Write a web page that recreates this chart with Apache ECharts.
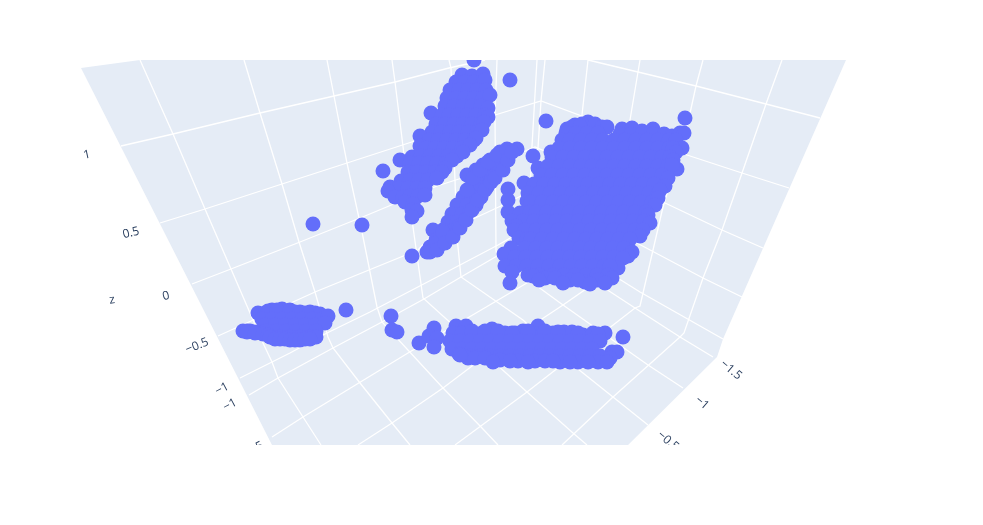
<!DOCTYPE html>
<html><head><meta charset="utf-8">
<style>html,body{margin:0;padding:0;background:#fff}#c{width:983px;height:525px}</style>
<script src="https://cdn.jsdelivr.net/npm/echarts@6/dist/echarts.min.js"></script>
</head><body><div id="c"></div>
<script>
// Points (horizontal, vertical picture units)
const loosePoints = [[313,224],[362,225],[346,310],[412,256],[510,80],[546,121],[474,60],[685,118],[431,113],[383,171],[391,316],[392,330],[397,332],[419,343],[434,328],[429,336],[437,338],[434,347],[623,337]];
const leftCluster = [[272,310],[282,309],[258,313],[265,313],[275,313],[285,313],[295,312],[305,313],[315,313],[268,311],[277,310],[290,310],[300,312],[310,312],[320,314],[262,319],[272,319],[282,319],[292,319],[302,319],[312,319],[322,319],[328,316],[265,325],[275,325],[285,325],[295,325],[305,325],[315,325],[325,323],[243,331],[247,331],[250,331],[254,332],[258,332],[262,333],[266,331],[276,331],[286,331],[296,331],[306,331],[316,331],[247,332],[255,333],[263,334],[268,335],[270,337],[280,337],[290,337],[300,337],[310,337],[316,337],[275,339],[280,339],[285,339],[290,340],[295,340],[300,340],[305,339],[310,339]];
const floorCluster = [[456,326],[466,326],[492,329],[538,326],[453,333],[462,333],[472,333],[482,333],[492,333],[505,333],[515,333],[523,331],[533,333],[543,333],[553,333],[564,332],[572,332],[583,335],[593,333],[605,333],[472,331],[485,331],[498,331],[512,333],[528,331],[545,331],[558,332],[578,333],[598,334],[450,341],[460,341],[470,341],[480,341],[490,341],[500,341],[510,341],[520,341],[530,341],[540,341],[550,341],[560,341],[570,341],[580,341],[590,341],[600,341],[452,349],[462,349],[472,349],[482,349],[492,349],[502,349],[512,349],[522,349],[532,349],[542,349],[552,349],[562,349],[572,349],[582,349],[592,349],[612,352],[617,352],[459,354],[470,356],[480,356],[490,356],[500,356],[510,356],[520,356],[530,356],[540,356],[550,356],[560,356],[570,356],[580,356],[590,356],[600,356],[610,358],[468,358],[460,355],[475,358],[485,358],[500,360],[518,361],[535,361],[545,361],[560,362],[578,362],[598,362],[493,362],[510,361],[528,362],[553,361],[570,362],[588,362],[607,362]];
const diagonalCluster = [[517,149],[508,150],[500,152],[497,157],[490,160],[503,158],[483,165],[492,168],[499,165],[476,170],[467,175],[485,175],[476,180],[492,177],[470,188],[480,188],[487,187],[463,197],[473,197],[481,197],[457,205],[467,205],[476,205],[452,214],[462,214],[470,211],[448,222],[457,222],[465,220],[433,230],[443,230],[452,231],[459,226],[436,240],[445,239],[450,236],[430,247],[438,247],[427,252],[436,243],[443,232],[467,190],[473,178],[480,170],[488,162],[497,155],[507,149],[430,252],[437,250],[445,243],[453,237],[460,228],[466,220],[472,210],[478,200],[485,190],[491,182],[495,178],[503,170],[508,160],[512,152]];
const upperCluster = [[462,75],[472,76],[483,74],[456,82],[465,82],[474,82],[483,82],[485,80],[450,90],[459,90],[468,90],[477,90],[486,90],[447,98],[456,98],[465,98],[474,98],[483,98],[490,95],[445,106],[454,106],[463,106],[472,106],[481,106],[488,108],[442,115],[449,115],[458,115],[467,115],[476,115],[485,115],[488,117],[436,124],[445,124],[454,124],[463,124],[472,124],[481,124],[484,122],[432,132],[441,132],[450,132],[459,132],[468,132],[477,132],[482,130],[420,136],[429,140],[438,140],[447,140],[456,140],[465,140],[474,140],[476,138],[420,146],[426,148],[435,148],[444,148],[453,148],[462,148],[470,145],[412,157],[421,156],[430,156],[439,156],[448,156],[457,156],[463,152],[400,160],[410,163],[419,163],[428,163],[437,163],[446,163],[452,160],[445,168],[408,172],[417,172],[426,172],[435,172],[442,172],[401,181],[410,180],[419,180],[428,180],[437,178],[390,187],[399,188],[408,188],[417,188],[425,188],[388,191],[395,197],[403,197],[410,196],[418,196],[425,195],[405,202],[413,204],[412,210],[417,211],[412,217]];
const largeCluster = [[588,122],[575,125],[582,124],[595,124],[567,129],
[572,127],[580,126],[602,127],[607,127],[622,129],[632,128],[642,131],[653,129],
[566,133],[576,133],[587,133],[598,133],[620,134],[631,134],[642,134],[653,134],[664,134],[672,136],[680,133],[684,133],
[562,140],[570,140],[581,140],[592,140],[603,140],[614,140],[625,140],[636,140],[647,140],[658,140],[669,140],[676,140],
[551,152],[559,148],[570,148],[581,148],[592,148],[603,148],[614,148],[625,148],[636,148],[647,148],[658,148],[669,148],[682,148],[673,148],[676,152],
[533,156],[552,157],[563,157],[574,157],[585,157],[596,157],[607,157],[618,157],[629,157],[640,157],[651,157],[662,157],[670,157],[673,160],
[538,168],[548,166],[559,166],[570,166],[581,166],[592,166],[603,166],[614,166],[625,166],[636,166],[647,166],[658,166],[668,166],[677,169],[672,165],
[541,175],[552,175],[563,175],[574,175],[585,175],[596,175],[607,175],[618,175],[629,175],[640,175],[651,175],[662,175],[668,178],
[524,183],[534,184],[544,184],[555,184],[566,184],[577,184],[588,184],[599,184],[610,184],[621,184],[632,184],[643,184],[654,184],[665,186],
[508,189],[528,193],[539,193],[550,193],[561,193],[572,193],[583,193],[594,193],[605,193],[616,193],[627,193],[638,193],[649,193],[658,194],[660,190],
[508,200],[527,201],[531,202],[542,202],[553,202],[564,202],[575,202],[586,202],[597,202],[608,202],[619,202],[630,202],[641,202],[652,202],[658,198],[655,205],
[508,212],[520,213],[530,212],[536,212],[547,212],[558,212],[569,212],[580,212],[591,212],[602,212],[613,212],[624,212],[635,212],[646,212],[648,215],
[512,221],[523,221],[534,221],[545,221],[556,221],[567,221],[578,221],[589,221],[600,221],[611,221],[622,221],[633,221],[644,221],[650,223],[516,226],
[514,230],[525,230],[536,230],[547,230],[558,230],[569,230],[580,230],[591,230],[602,230],[613,230],[624,230],[635,230],[643,230],[640,236],
[519,238],[527,239],[531,239],[542,239],[553,239],[564,239],[575,239],[586,239],[597,239],[608,239],[619,239],[630,239],
[511,248],[525,248],[536,248],[547,248],[558,248],[569,248],[580,248],[591,248],[602,248],[613,248],[624,248],[632,252],[628,256],
[504,254],[515,257],[526,257],[537,257],[548,257],[559,257],[570,257],[581,257],[592,257],[603,257],[614,257],[623,258],[618,268],
[505,266],[516,266],[527,266],[538,266],[549,266],[560,266],[571,266],[582,266],[593,266],[604,266],[610,266],
[512,272],[528,275],[539,275],[553,275],[564,275],[575,275],[586,275],[597,275],[608,275],[612,278],[533,276],[545,278],[555,278],[570,280],[585,282],[598,280],
[510,283],[539,280],[563,283],[578,280],[590,284],[605,283]];

// White guide lines of the three walls
const wallLines = [
 [[121,146],[173,134],[260,113],[334,96],[395,82],[449,68],[485,60]],
 [[160,223],[205,209],[282,184],[347,163],[495,115],[541,101],[687,155],[742,173],[789,188]],
 [[192,284],[231,269],[300,242],[365,216],[437,186],[462,178],[535,147],[663,202],[722,230],[763,248]],
 [[218,336],[315,292],[418,250],[428,239],[460,225],[503,205],[533,190],[635,242],[703,278],[742,297]],
 [[240,378],[290,353],[327,333],[370,312],[460,265],[498,245],[533,225],[640,292],[723,339]],
 [[588,60],[638,72],[696,86],[766,104],[820,118]],
 [[140,60],[173,134],[205,209],[231,269],[263,343],[272,362],[278,378],[303,417],[321,445]],
 [[244,60],[260,113],[282,184],[299,242],[315,292],[328,337],[333,348],[360,383],[392,423],[410,445]],
 [[327,60],[334,96],[347,163],[362,232],[377,307],[382,322],[443,388],[482,428],[498,445]],
 [[392,60],[395,82],[413,227],[423,298],[527,392],[573,433],[587,445]],
 [[449,60],[451,68],[457,237],[461,277],[523,320],[563,357],[613,397],[648,425]],
 [[497,60],[495,115],[496,250],[497,257],[563,305],[648,365],[683,388]],
 [[537,60],[532,146],[528,238]],
 [[545,60],[541,101],[538,148],[528,238]],
 [[588,60],[582,115],[566,263],[537,277],[493,303],[408,353],[303,417],[272,437]],
 [[640,60],[630,120],[596,282],[563,305],[480,360],[443,388],[392,423],[358,445]],
 [[703,60],[696,86],[687,127],[663,207],[640,306],[635,308],[527,392],[455,445]],
 [[782,60],[766,104],[742,173],[722,230],[703,278],[684,333],[680,337],[613,397],[562,445]],
 [[249,395],[278,378],[333,348],[382,322],[424,299],[461,277],[528,238],[635,308],[680,337],[713,357]]
];
const wallOutline = [[81,68],[140,60],[846,60],[723,339],[717,357],[628,445],[272,445]];

const tickTexts = ['1','0.5','0','\u22120.5','\u22121','\u22121','\u22120.5','z','\u22121.5','\u22121','\u22120.5'];
const tickSpots = [[87,155],[131,233],[166,296],[197,346],[222,389],[230,405],[252,450],[112,300],[731,370],[702,403],[668,441]];
const tickAngles = [12,14,14,22,28,28,26,8,-40,-40,-40];

const chart = echarts.init(document.getElementById('c'), null, {renderer:'canvas'});
const markSeries = [loosePoints,leftCluster,floorCluster,diagonalCluster,upperCluster,largeCluster].map(d=>({
  type:'scatter', data:d, symbol:'circle', symbolSize:15, z:3, silent:true,
  itemStyle:{color:'#636EFA',opacity:1}
}));
chart.setOption({
  animation:false, backgroundColor:'#fff', tooltip:{show:false}, legend:{show:false},
  grid:{left:0,right:0,top:0,bottom:0},
  xAxis:{type:'value',min:0,max:983,show:false},
  yAxis:{type:'value',min:0,max:525,inverse:true,show:false},
  series:[
    {type:'custom',z:1,silent:true,clip:false,data:[[0,0]],
     renderItem:(p,api)=>({type:'polygon',shape:{points:wallOutline.map(c=>api.coord(c))},style:{fill:'#E5ECF6'}})},
    {type:'lines',coordinateSystem:'cartesian2d',polyline:true,z:2,silent:true,
     lineStyle:{color:'#ffffff',width:1.3,opacity:1},
     data:wallLines.map(c=>({coords:c}))},
    ...markSeries,
    {type:'custom',z:4,silent:true,clip:false,data:tickSpots,
     renderItem:(p,api)=>{const c=api.coord(tickSpots[p.dataIndex]);
       return {type:'text',x:c[0],y:c[1],rotation:tickAngles[p.dataIndex]*Math.PI/180,
         style:{text:tickTexts[p.dataIndex],fill:'#2a3f5f',font:'12px "Open Sans"',align:'center',verticalAlign:'middle'}};}},
    {type:'custom',z:5,silent:true,clip:false,data:[[0,0],[0,445]],
     renderItem:(p,api)=>{const a=api.coord([0,p.dataIndex?445:0]),b=api.coord([983,p.dataIndex?525:60]);
       return {type:'rect',shape:{x:a[0],y:a[1],width:b[0]-a[0],height:b[1]-a[1]},style:{fill:'#fff'}};}}
  ]
});
</script></body></html>
